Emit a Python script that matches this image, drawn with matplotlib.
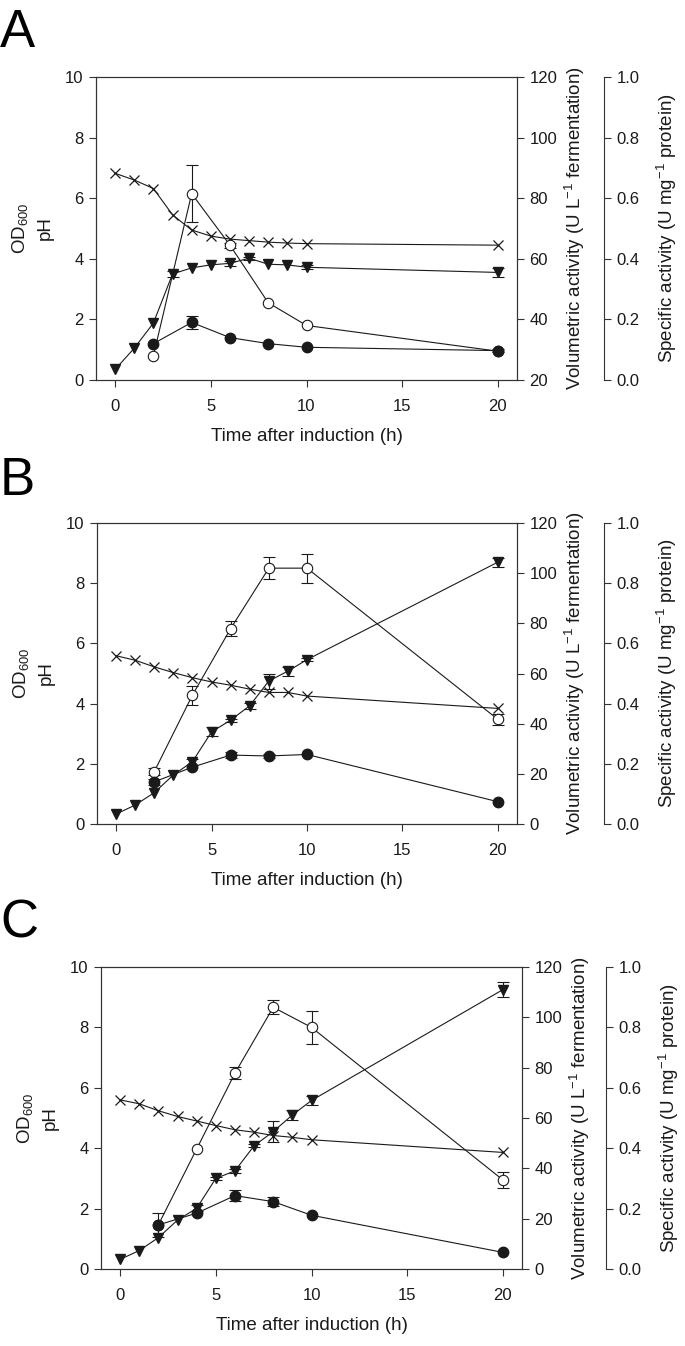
import matplotlib
matplotlib.use("Agg")
import matplotlib.pyplot as plt
import numpy as np

plt.rcParams['font.family'] = ['Liberation Sans', 'DejaVu Sans']
plt.rcParams['mathtext.fontset'] = 'custom'
plt.rcParams['mathtext.rm'] = 'Liberation Sans'
plt.rcParams['mathtext.it'] = 'Liberation Sans'

# ---------------- data ----------------
t_all = [0, 1, 2, 3, 4, 5, 6, 7, 8, 9, 10, 20]
t_act = [2, 4, 6, 8, 10, 20]

# Panel A
A_od = [0.35, 1.05, 1.88, 3.5, 3.7, 3.8, 3.85, 4.02, 3.82, 3.8, 3.72, 3.55]
A_od_err = [0, 0, 0, 0.1, 0, 0, 0.08, 0.05, 0, 0, 0.06, 0.15]
A_ph = [6.82, 6.6, 6.32, 5.45, 4.95, 4.75, 4.65, 4.6, 4.55, 4.52, 4.5, 4.45]
A_vol = [28.0, 81.5, 64.5, 45.5, 38.0, 29.5]
A_vol_err = [0, 9.5, 0.8, 0, 0, 0]
A_spec = [0.12, 0.19, 0.14, 0.12, 0.108, 0.097]
A_spec_err = [0, 0.022, 0, 0, 0, 0.005]

# Panel B
B_od = [0.33, 0.63, 1.04, 1.63, 2.07, 3.06, 3.45, 3.93, 4.75, 5.08, 5.46, 8.7]
B_od_err = [0, 0, 0, 0, 0.1, 0.15, 0.05, 0.1, 0.25, 0.15, 0.05, 0.15]
B_ph = [5.59, 5.44, 5.22, 5.03, 4.86, 4.72, 4.61, 4.48, 4.37, 4.37, 4.25, 3.84]
B_vol = [20.9, 51.4, 77.9, 102.0, 102.0, 41.7]
B_vol_err = [1.5, 3.8, 3.0, 4.5, 5.8, 2.3]
B_spec = [0.14, 0.189, 0.229, 0.226, 0.231, 0.074]
B_spec_err = [0.01, 0, 0.01, 0.008, 0, 0]

# Panel C
C_od = [0.32, 0.61, 1.04, 1.62, 2.01, 3.0, 3.25, 4.08, 4.55, 5.1, 5.58, 9.25]
C_od_err = [0, 0, 0, 0, 0.1, 0.05, 0.06, 0.05, 0.35, 0.15, 0.15, 0.25]
C_ph = [5.6, 5.47, 5.24, 5.05, 4.9, 4.75, 4.61, 4.53, 4.42, 4.36, 4.28, 3.86]
C_vol = [17.6, 47.7, 77.8, 104.0, 96.0, 35.4]
C_vol_err = [4.8, 0, 2.4, 2.8, 6.4, 3.3]
C_spec = [0.146, 0.185, 0.243, 0.223, 0.178, 0.055]
C_spec_err = [0, 0, 0.017, 0.015, 0, 0]

panels = [
    dict(letter='A', od=A_od, od_err=A_od_err, ph=A_ph, vol=A_vol, vol_err=A_vol_err,
         spec=A_spec, spec_err=A_spec_err, vol_lim=(20, 120),
         rect=(96, 77, 517, 380), spec_off=87, letter_base=47),
    dict(letter='B', od=B_od, od_err=B_od_err, ph=B_ph, vol=B_vol, vol_err=B_vol_err,
         spec=B_spec, spec_err=B_spec_err, vol_lim=(0, 120),
         rect=(97, 523, 517, 824), spec_off=87, letter_base=495),
    dict(letter='C', od=C_od, od_err=C_od_err, ph=C_ph, vol=C_vol, vol_err=C_vol_err,
         spec=C_spec, spec_err=C_spec_err, vol_lim=(0, 120),
         rect=(101, 967, 522, 1269), spec_off=84, letter_base=937),
]

W, H = 685, 1346
fig = plt.figure(figsize=(W / 100, H / 100), dpi=100)

col = '#1a1a1a'
spine_col = '#333333'
lw = 0.8
fs_tick = 12
fs_lab = 13.5


def errs(ax, x, y, e):
    x = np.asarray(x); y = np.asarray(y); e = np.asarray(e)
    m = e > 0
    if m.any():
        ax.errorbar(x[m], y[m], yerr=e[m], fmt='none', ecolor=col, elinewidth=lw,
                    capsize=4, capthick=lw, zorder=2)


for p in panels:
    x0, y0, x1, y1 = p['rect']
    ax = fig.add_axes([x0 / W, 1 - y1 / H, (x1 - x0) / W, (y1 - y0) / H])
    ax2 = ax.twinx()
    ax3 = ax.twinx()
    ax3.spines['right'].set_position(('axes', 1 + p['spec_off'] / (x1 - x0)))

    # OD600 (filled down-triangles) and pH (x) on left axis
    ax.plot(t_all, p['ph'], color=col, lw=lw, marker='x', ms=7, mew=0.9, zorder=3)
    errs(ax, t_all, p['od'], p['od_err'])
    ax.plot(t_all, p['od'], color=col, lw=lw, marker='v', ms=7, mfc=col, mec=col, zorder=4)

    # Volumetric activity (open circles)
    errs(ax2, t_act, p['vol'], p['vol_err'])
    ax2.plot(t_act, p['vol'], color=col, lw=lw, marker='o', ms=7.5, mfc='white',
             mec=col, mew=0.8, zorder=3)

    # Specific activity (filled circles)
    errs(ax3, t_act, p['spec'], p['spec_err'])
    ax3.plot(t_act, p['spec'], color=col, lw=lw, marker='o', ms=7.5, mfc=col,
             mec=col, zorder=3)

    ax.set_xlim(-1, 21)
    ax.set_ylim(0, 10)
    ax.set_xticks([0, 5, 10, 15, 20])
    ax.set_yticks([0, 2, 4, 6, 8, 10])
    ax2.set_ylim(*p['vol_lim'])
    ax2.set_yticks(np.arange(p['vol_lim'][0], 121, 20))
    ax3.set_ylim(0, 1.0)
    ax3.set_yticks([0.0, 0.2, 0.4, 0.6, 0.8, 1.0])
    ax3.set_yticklabels(['%.1f' % v for v in [0.0, 0.2, 0.4, 0.6, 0.8, 1.0]])

    for a in (ax, ax2, ax3):
        a.tick_params(direction='out', length=5, width=0.8, labelsize=fs_tick,
                      colors=spine_col, labelcolor=col, pad=4)
        for s in a.spines.values():
            s.set_color(spine_col)
            s.set_linewidth(0.8)
    ax.tick_params(axis='x', pad=9)
    for s in ('top', 'left', 'bottom'):
        ax3.spines[s].set_visible(False)
    ax3.spines['right'].set_bounds(0, 1.0)

    ax.set_xlabel('Time after induction (h)', fontsize=fs_lab, color=col, labelpad=10)
    ax.set_ylabel('OD$_{600}$\npH', fontsize=fs_lab, color=col, labelpad=8, linespacing=1.5)
    ax2.set_ylabel('Volumetric activity (U L$^{-1}$ fermentation)', fontsize=fs_lab,
                   color=col, labelpad=4)
    ax3.set_ylabel('Specific activity (U mg$^{-1}$ protein)', fontsize=fs_lab,
                   color=col, labelpad=11)

    fig.text(0.0, 1 - p['letter_base'] / H, p['letter'], fontsize=38, color='black',
             ha='left', va='baseline')

fig.savefig('out.png', dpi=100)
